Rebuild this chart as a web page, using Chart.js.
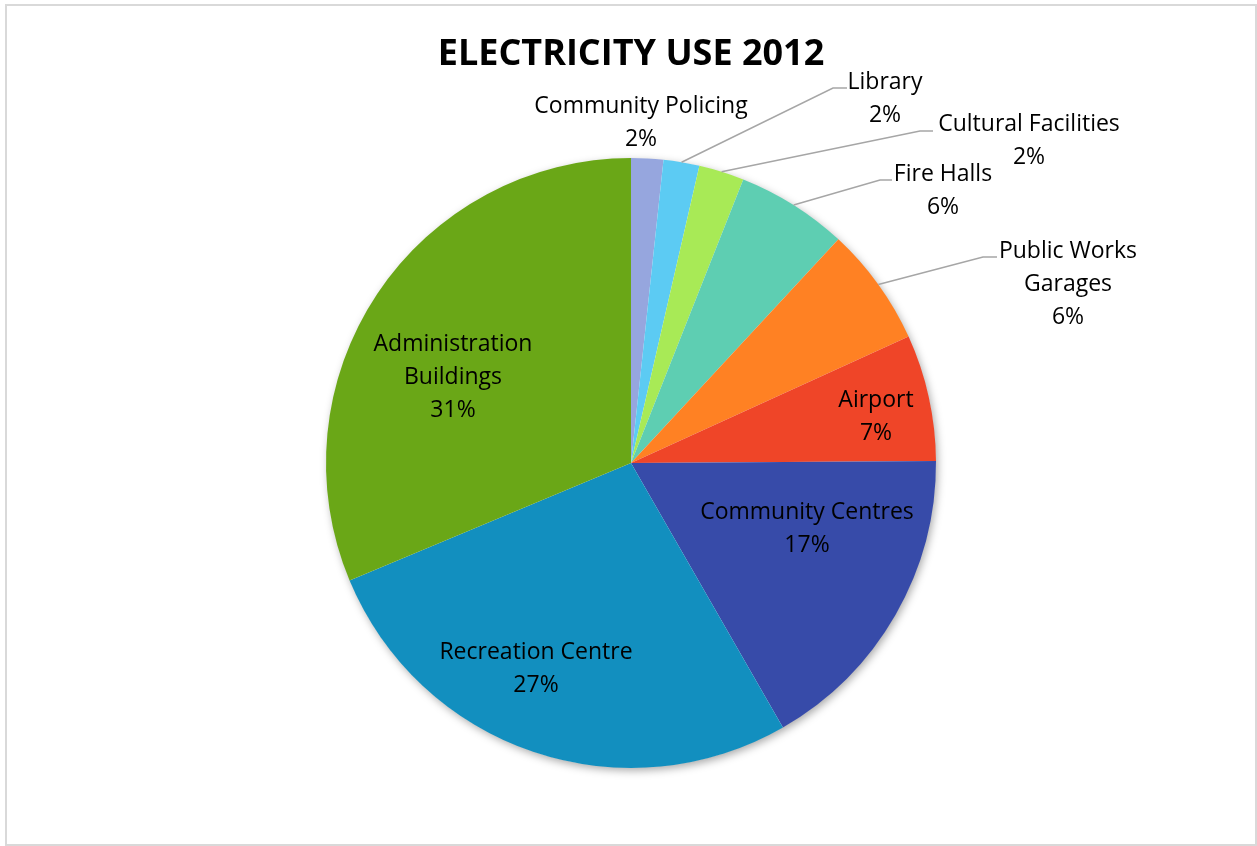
<!DOCTYPE html>
<html>
<head>
<meta charset="utf-8">
<script src="https://cdn.jsdelivr.net/npm/chart.js@4.4.1/dist/chart.umd.min.js"></script>
<style>
  html, body { margin: 0; padding: 0; background: #ffffff; }
  #wrap { position: relative; width: 1257px; height: 846px; }
  canvas { display: block; }
</style>
</head>
<body>
<div id="wrap"><canvas id="c" width="1257" height="846"></canvas></div>
<script>
// ---------- data ----------
const chartTitle = 'ELECTRICITY USE 2012';
const categories = [
  'Community Policing', 'Library', 'Cultural Facilities', 'Fire Halls',
  'Public Works Garages', 'Airport', 'Community Centres',
  'Recreation Centre', 'Administration Buildings'
];
const shares = [1.7, 1.9, 2.4, 5.9, 6.3, 6.7, 16.8, 27.0, 31.3];
// label text lines (as printed in the chart)
const labelLines = [
  ['Community Policing'], ['Library'], ['Cultural Facilities'], ['Fire Halls'],
  ['Public Works', 'Garages'], ['Airport'], ['Community Centres'],
  ['Recreation Centre'], ['Administration', 'Buildings']
];

// ---------- styles ----------
const sliceColors = ['#96A6DE', '#5CCBF3', '#A8EA56', '#5ECEB2', '#FF8123',
                     '#EF4528', '#374BA9', '#128FBF', '#6AA717'];
const FONT = '"Open Sans", "DejaVu Sans", sans-serif';
// label placement: offsets from pie centre (in px for a radius of 305, scaled with radius)
// c = centre of label block (x) and centre of first line (y); leader = elbow / end points
const labelPlace = [
  { c: [10, -357] },
  { c: [254, -381], elbow: [202, -375], end: [216, -375] },
  { c: [398, -339], elbow: [289, -332], end: [302, -332] },
  { c: [312, -289], elbow: [249, -283], end: [261, -283] },
  { c: [437, -212], elbow: [352, -206], end: [366, -206] },
  { c: [245, -63] },
  { c: [176, 49] },
  { c: [-95, 189] },
  { c: [-178, -119] }
];
const LINE_H = 33;

const shadowPlugin = {
  id: 'pieShadow',
  beforeDatasetsDraw(chart) {
    const arc = chart.getDatasetMeta(0).data[0];
    if (!arc) return;
    const ctx = chart.ctx;
    ctx.save();
    ctx.shadowColor = 'rgba(0,0,0,0.35)';
    ctx.shadowBlur = 9;
    ctx.shadowOffsetX = 2;
    ctx.shadowOffsetY = 3;
    ctx.fillStyle = '#ffffff';
    ctx.beginPath();
    ctx.arc(arc.x, arc.y, arc.outerRadius - 0.5, 0, Math.PI * 2);
    ctx.fill();
    ctx.restore();
  }
};

const labelPlugin = {
  id: 'pieLabels',
  afterDraw(chart) {
    const ctx = chart.ctx;
    const meta = chart.getDatasetMeta(0);
    const total = shares.reduce((a, b) => a + b, 0);
    ctx.save();
    // frame
    ctx.strokeStyle = '#D9D9D9';
    ctx.lineWidth = 2;
    ctx.strokeRect(6, 5, 1250, 840);
    // title
    ctx.fillStyle = '#000000';
    ctx.font = 'bold 36px ' + FONT;
    ctx.textAlign = 'center';
    ctx.textBaseline = 'middle';
    const a0 = meta.data[0];
    ctx.fillText(chartTitle, a0.x, a0.y - 408);

    ctx.font = '23px ' + FONT;
    meta.data.forEach((arc, i) => {
      const s = arc.outerRadius / 305;
      const p = labelPlace[i];
      const cx = arc.x + p.c[0] * s;
      const cy = arc.y + p.c[1] * s;
      if (p.elbow) {
        const mid = (arc.startAngle + arc.endAngle) / 2;
        const sx = arc.x + Math.cos(mid) * arc.outerRadius;
        const sy = arc.y + Math.sin(mid) * arc.outerRadius;
        ctx.strokeStyle = '#A6A6A6';
        ctx.lineWidth = 1.5;
        ctx.beginPath();
        ctx.moveTo(sx, sy);
        ctx.lineTo(arc.x + p.elbow[0] * s, arc.y + p.elbow[1] * s);
        ctx.lineTo(arc.x + p.end[0] * s, arc.y + p.end[1] * s);
        ctx.stroke();
      }
      const lines = labelLines[i].concat([Math.round(shares[i] / total * 100) + '%']);
      ctx.fillStyle = '#000000';
      lines.forEach((t, k) => ctx.fillText(t, cx, cy + k * LINE_H));
    });
    ctx.restore();
  }
};

new Chart(document.getElementById('c'), {
  type: 'pie',
  data: {
    labels: categories,
    datasets: [{
      data: shares,
      backgroundColor: sliceColors,
      borderWidth: 0
    }]
  },
  options: {
    responsive: false,
    devicePixelRatio: 1,
    animation: false,
    layout: { padding: { top: 158, bottom: 78, left: 5, right: 0 } },
    plugins: {
      legend: { display: false },
      tooltip: { enabled: false },
      title: { display: false }
    }
  },
  plugins: [shadowPlugin, labelPlugin]
});
</script>
</body>
</html>
